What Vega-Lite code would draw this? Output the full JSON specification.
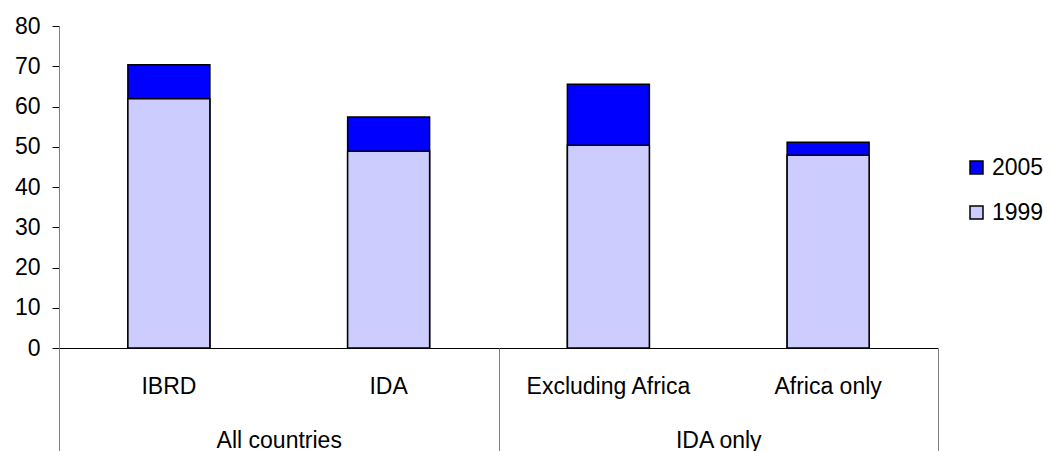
{
  "$schema": "https://vega.github.io/schema/vega-lite/v6.json",
  "autosize": "none",
  "width": 879,
  "height": 322,
  "padding": {"left": 59, "top": 26, "right": 112, "bottom": 103},
  "config": {
    "view": {"stroke": null},
    "font": "Liberation Sans",
    "axis": {"labelFont": "Liberation Sans", "labelColor": "black", "grid": false},
    "legend": {"labelFont": "Liberation Sans", "labelColor": "black"}
  },
  "data": {
    "values": [
      {"group": "All countries", "category": "IBRD", "year": "2005", "value": 70.4},
      {"group": "All countries", "category": "IDA", "year": "2005", "value": 57.4},
      {"group": "IDA only", "category": "Excluding Africa", "year": "2005", "value": 65.5},
      {"group": "IDA only", "category": "Africa only", "year": "2005", "value": 51.1},
      {"group": "All countries", "category": "IBRD", "year": "1999", "value": 61.9},
      {"group": "All countries", "category": "IDA", "year": "1999", "value": 48.9},
      {"group": "IDA only", "category": "Excluding Africa", "year": "1999", "value": 50.4},
      {"group": "IDA only", "category": "Africa only", "year": "1999", "value": 47.9}
    ]
  },
  "layer": [
    {
      "mark": {"type": "bar", "stroke": "black", "strokeWidth": 1.5},
      "encoding": {
        "x": {
          "field": "category", "type": "nominal", "sort": null,
          "scale": {"paddingInner": 0.627, "paddingOuter": 0.3135},
          "axis": {"orient": "bottom", "title": null, "labelAngle": 0, "ticks": false, "domainColor": "black", "labelFontSize": 23, "labelPadding": 27}
        },
        "y": {
          "field": "value", "type": "quantitative", "stack": null,
          "scale": {"domain": [0, 80], "nice": false},
          "axis": {"title": null, "values": [0, 10, 20, 30, 40, 50, 60, 70, 80], "tickSize": 7, "tickColor": "black", "domainColor": "#808080", "labelFontSize": 23, "labelPadding": 12}
        },
        "color": {
          "field": "year", "type": "nominal",
          "scale": {"domain": ["2005", "1999"], "range": ["#0000FF", "#CCCCFF"]},
          "legend": {"title": null, "orient": "none", "legendX": 906, "legendY": 130, "symbolType": "square", "symbolSize": 169, "symbolStrokeColor": "black", "symbolStrokeWidth": 1.5, "symbolOpacity": 1, "labelFontSize": 23, "rowPadding": 21, "padding": 0, "labelOffset": 4}
        }
      }
    },
    {
      "mark": {"type": "text", "text": ""},
      "encoding": {
        "x": {
          "field": "group", "type": "nominal", "sort": null,
          "scale": {"paddingInner": 0, "paddingOuter": 0},
          "axis": {"orient": "bottom", "title": null, "labelAngle": 0, "tickBand": "extent", "tickSize": 103, "tickColor": "#808080", "domain": false, "labelFontSize": 23, "labelPadding": -22}
        }
      }
    }
  ],
  "resolve": {"scale": {"x": "independent"}, "axis": {"x": "independent"}}
}
